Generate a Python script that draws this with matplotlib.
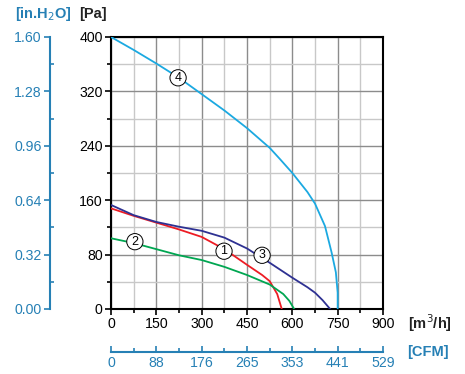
import matplotlib.pyplot as plt
import numpy as np

plt.rcParams['font.family'] = ['Liberation Sans', 'DejaVu Sans']

# curve data, airflow [m3/h] vs pressure [Pa]
q1 = [0, 75, 150, 225, 300, 375, 450, 500, 525, 550, 565]
p1 = [148, 137, 127, 117, 106, 88, 65, 50, 41, 22, 0]
q2 = [0, 75, 150, 225, 300, 375, 450, 525, 570, 590, 606]
p2 = [104, 97, 88, 79, 72, 62, 50, 36, 22, 12, 0]
q3 = [0, 75, 150, 225, 300, 375, 450, 525, 600, 650, 675, 700, 725]
p3 = [153, 138, 128, 121, 115, 105, 89, 68, 46, 32, 24, 13, 0]
q4 = [0, 75, 150, 225, 300, 375, 450, 525, 560, 600, 650, 675, 708, 730, 744, 750, 750]
p4 = [400, 381, 361, 340, 316, 292, 266, 237, 220, 200, 172, 155, 122, 83, 54, 24, 0]

labels = ['1', '2', '3', '4']
label_q = [374, 79, 500, 222]
label_p = [85, 99, 79, 340]

x_ticks = [0, 150, 300, 450, 600, 750, 900]
cfm_labels = ['0', '88', '176', '265', '353', '441', '529']
pa_ticks = [0, 80, 160, 240, 320, 400]
inh2o_labels = ['0.00', '0.32', '0.64', '0.96', '1.28', '1.60']

blue = '#2680B5'
colors = ['#ED1C24', '#00A651', '#2E3192', '#1BA9E1']
fs = 10.2

fig = plt.figure(figsize=(4.65, 3.74), dpi=100)
ax = fig.add_axes([111/465, 1-309/374, 272/465, 272/374])

for q, p, c in zip([q1, q2, q3, q4], [p1, p2, p3, p4], colors):
    ax.plot(q, p, color=c, lw=1.3, zorder=3)

for t, x, y in zip(labels, label_q, label_p):
    ax.text(x, y, t, fontsize=9, ha='center', va='center', zorder=5,
            bbox=dict(boxstyle='circle,pad=0.17', fc='white', ec='black', lw=0.7))

ax.set_xlim(0, 900)
ax.set_ylim(0, 400)
ax.set_xticks(x_ticks)
ax.set_xticks(np.arange(75, 900, 150), minor=True)
ax.set_yticks(pa_ticks)
ax.set_yticks(np.arange(40, 400, 80), minor=True)
ax.grid(which='major', color='#8c8c8c', lw=1.0)
ax.grid(which='minor', color='#c8c8c8', lw=1.0)
ax.set_axisbelow(True)
for s in ax.spines.values():
    s.set_linewidth(1.5)
ax.tick_params(which='both', labelsize=fs, width=1.2, direction='out', pad=2)
ax.tick_params(which='major', length=4)
ax.tick_params(which='minor', length=3)

# secondary left axis in.H2O
ax_in = ax.twinx()
ax_in.set_ylim(0, 1.6)
ax_in.spines['left'].set_position(('outward', 44))
ax_in.spines['left'].set_color(blue)
ax_in.spines['left'].set_linewidth(1.5)
for s in ['right', 'top', 'bottom']:
    ax_in.spines[s].set_visible(False)
ax_in.yaxis.set_ticks_position('left')
ax_in.yaxis.set_label_position('left')
ax_in.set_yticks(np.linspace(0, 1.6, 6))
ax_in.set_yticklabels(inh2o_labels)
ax_in.set_yticks(np.arange(0.16, 1.6, 0.32), minor=True)
ax_in.tick_params(axis='y', which='both', colors=blue, labelsize=fs, width=1.2, pad=2)
ax_in.tick_params(axis='y', which='major', length=4, direction='out')
ax_in.tick_params(axis='y', which='minor', length=3, direction='in')

# secondary bottom axis CFM
ax_cfm = ax.twiny()
ax_cfm.set_xlim(0, 900)
ax_cfm.spines['bottom'].set_position(('outward', 31))
ax_cfm.spines['bottom'].set_color(blue)
ax_cfm.spines['bottom'].set_linewidth(1.5)
for s in ['right', 'top', 'left']:
    ax_cfm.spines[s].set_visible(False)
ax_cfm.xaxis.set_ticks_position('bottom')
ax_cfm.set_xticks(x_ticks)
ax_cfm.set_xticklabels(cfm_labels)
ax_cfm.set_xticks(np.arange(75, 900, 150), minor=True)
ax_cfm.tick_params(axis='x', which='both', colors=blue, labelsize=fs, width=1.2,
                   direction='in', pad=3)
ax_cfm.tick_params(axis='x', which='major', length=4)
ax_cfm.tick_params(axis='x', which='minor', length=3)

fig.text(43/465, 1-14/374, '[in.H$_2$O]', color=blue, fontsize=10.5, fontweight='bold',
         ha='center', va='center')
fig.text(93/465, 1-14/374, '[Pa]', color='#222222', fontsize=10.5, fontweight='bold',
         ha='center', va='center')
fig.text(430/465, 1-323/374, '[m$^3$/h]', color='#222222', fontsize=10.5,
         fontweight='bold', ha='center', va='center')
fig.text(428/465, 1-352/374, '[CFM]', color=blue, fontsize=10.5, fontweight='bold',
         ha='center', va='center')

fig.savefig('out.png', dpi=100)
